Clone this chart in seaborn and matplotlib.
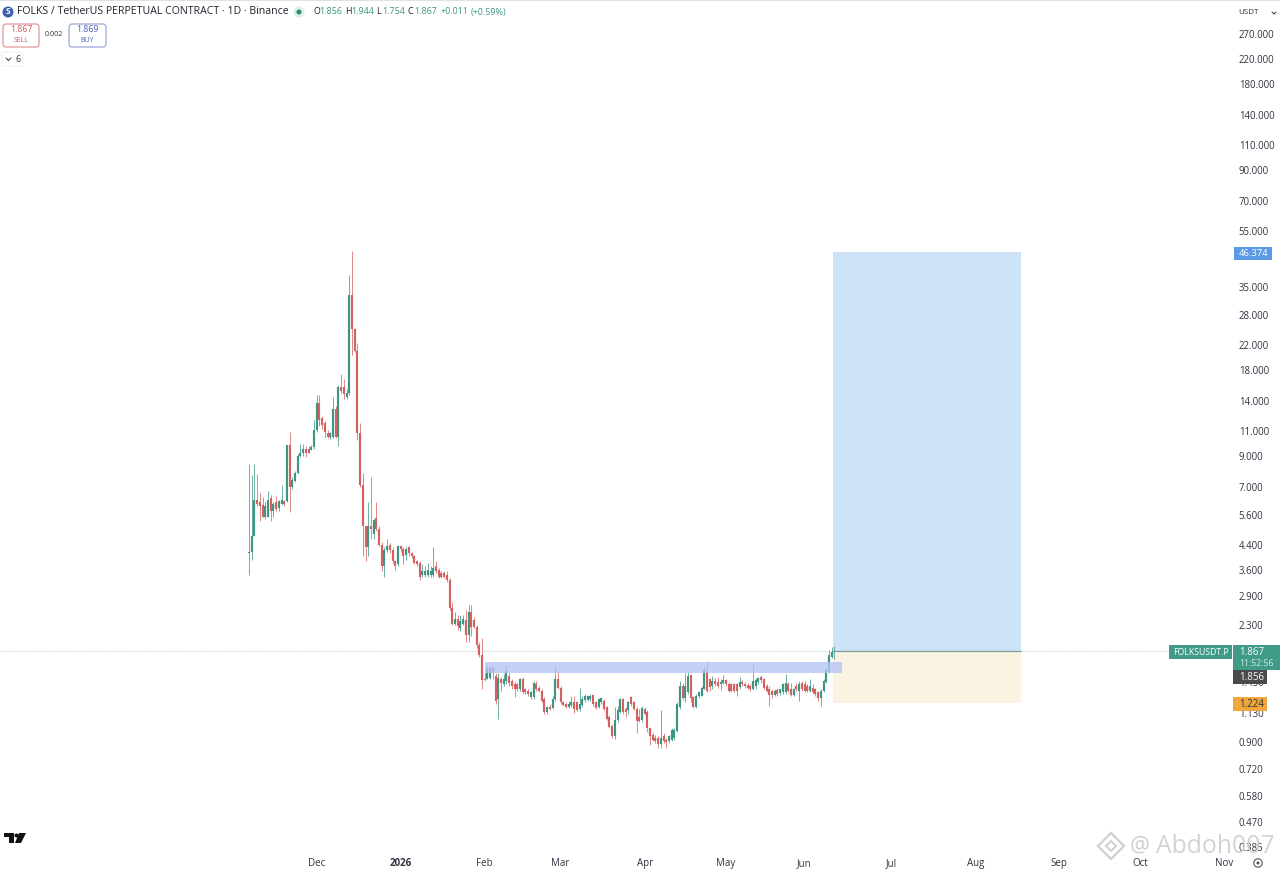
import pandas as pd
import matplotlib
matplotlib.use('Agg')
import matplotlib.pyplot as plt
import matplotlib.dates as mdates
from matplotlib.patches import Rectangle, FancyBboxPatch, Circle, Polygon
import seaborn as sns

# daily candles, first candle 2025-11-06
start_date = '2025-11-06'
opens = [4.10, 4.15, 4.7, 6.3, 6.2, 6.05, 5.5, 5.5, 6.4, 5.75, 6.2, 5.9, 6.1, 6.25, 6.25, 9.8, 7.0, 7.35, 7.85, 9.0,
         9.2, 9.5, 9.5, 9.45, 9.65, 11.1, 13.8, 12.2, 11.7, 10.8, 10.5, 10.5, 13.1, 10.5, 15.7, 15.7, 14.4, 14.9, 32.9, 24.9,
         21, 10.8, 7.1, 5.1, 4.3, 5.1, 4.8, 5.45, 5.0, 4.4, 3.7, 4.2, 4.4, 4.2, 3.85, 3.75, 4.35, 4.25, 4.05, 4.3,
         4.1, 4.0, 3.85, 3.8, 3.45, 3.45, 3.45, 3.45, 3.45, 3.7, 3.6, 3.5, 3.5, 3.45, 3.3, 2.65, 2.33, 2.42, 2.25, 2.33,
         2.4, 2.12, 2.55, 2.4, 2.27, 1.96, 1.81, 1.485, 1.493, 1.505, 1.628, 1.525, 1.268, 1.493, 1.428, 1.466, 1.525, 1.466, 1.428, 1.428,
         1.372, 1.493, 1.372, 1.354, 1.292, 1.285, 1.428, 1.391, 1.354, 1.268, 1.142, 1.188, 1.178, 1.268, 1.485, 1.391, 1.235, 1.219, 1.188, 1.21,
         1.235, 1.235, 1.166, 1.21, 1.262, 1.262, 1.268, 1.309, 1.235, 1.188, 1.235, 1.252, 1.188, 1.098, 1.02, 0.938, 1.069, 1.142, 1.268, 1.172,
         1.157, 1.285, 1.235, 1.172, 1.098, 1.069, 1.172, 1.142, 1.001, 0.95, 0.93, 0.93, 0.883, 0.938, 0.913, 0.901, 0.913, 0.925, 0.983, 1.188,
         1.409, 1.275, 1.337, 1.533, 1.285, 1.188, 1.295, 1.302, 1.38, 1.586, 1.485, 1.409, 1.466, 1.455, 1.428, 1.447, 1.478, 1.436, 1.428, 1.428,
         1.428, 1.402, 1.455, 1.436, 1.417, 1.409, 1.38, 1.409, 1.455, 1.513, 1.485, 1.409, 1.38, 1.354, 1.309, 1.365, 1.33, 1.337, 1.344, 1.428,
         1.372, 1.309, 1.409, 1.354, 1.447, 1.428, 1.409, 1.354, 1.391, 1.372, 1.337, 1.275, 1.354, 1.455, 1.573, 1.785, 1.856]
highs = [8.45, 7.7, 8.45, 7.75, 6.65, 6.45, 6.2, 6.75, 6.55, 6.2, 6.5, 6.3, 7.1, 6.3, 9.8, 10.9, 7.6, 7.95, 9.1, 9.9,
         9.9, 9.7, 9.7, 9.8, 12.0, 14.7, 14.7, 12.4, 11.9, 11.1, 10.9, 14.4, 13.4, 15.9, 17.4, 16.7, 15.4, 38.6, 47, 25.2,
         22.4, 11.7, 7.85, 5.1, 6.2, 7.6, 5.4, 6.2, 5.1, 4.5, 4.3, 4.6, 4.45, 4.3, 3.9, 4.4, 4.4, 4.3, 4.3, 4.35,
         4.15, 4.05, 3.9, 3.85, 3.75, 3.7, 3.8, 3.7, 4.3, 3.85, 3.65, 3.55, 3.55, 3.55, 3.35, 2.78, 2.55, 2.5, 2.5, 2.5,
         2.6, 2.7, 2.7, 2.45, 2.3, 2.0, 2.07, 1.565, 1.672, 1.65, 1.65, 1.565, 1.565, 1.51, 1.545, 1.672, 1.565, 1.493, 1.466, 1.447,
         1.505, 1.515, 1.391, 1.372, 1.354, 1.466, 1.466, 1.409, 1.372, 1.285, 1.203, 1.219, 1.302, 1.66, 1.586, 1.409, 1.252, 1.235, 1.252, 1.302,
         1.302, 1.252, 1.391, 1.302, 1.319, 1.309, 1.319, 1.319, 1.252, 1.275, 1.285, 1.268, 1.203, 1.112, 1.033, 1.188, 1.203, 1.275, 1.275, 1.188,
         1.252, 1.302, 1.252, 1.188, 1.172, 1.203, 1.188, 1.157, 1.014, 0.963, 0.95, 0.938, 1.157, 0.963, 0.925, 0.95, 1.001, 1.001, 1.235, 1.466,
         1.447, 1.565, 1.573, 1.545, 1.302, 1.319, 1.354, 1.409, 1.66, 1.716, 1.505, 1.525, 1.505, 1.515, 1.485, 1.533, 1.493, 1.451, 1.447, 1.447,
         1.447, 1.515, 1.478, 1.455, 1.44, 1.428, 1.685, 1.505, 1.515, 1.533, 1.505, 1.428, 1.409, 1.372, 1.372, 1.391, 1.38, 1.447, 1.545, 1.455,
         1.447, 1.391, 1.447, 1.466, 1.466, 1.466, 1.428, 1.485, 1.428, 1.391, 1.354, 1.372, 1.485, 1.628, 1.882, 1.93, 1.944]
lows = [3.45, 3.9, 4.7, 6.0, 5.3, 5.5, 5.4, 5.5, 5.3, 5.5, 5.75, 5.75, 6.05, 6.0, 6.2, 5.7, 6.9, 7.3, 7.75, 8.9,
        9.0, 8.9, 9.2, 9.4, 9.5, 10.9, 11.4, 11.2, 10.4, 10.4, 10.3, 10.4, 10.4, 9.7, 14.9, 14.2, 14.2, 14.7, 20.2, 20.8,
        10.2, 7.0, 4.0, 3.85, 4.0, 4.6, 4.6, 4.9, 4.35, 3.55, 3.4, 4.15, 4.1, 3.8, 3.6, 3.7, 4.15, 3.75, 3.9, 4.0,
        3.95, 3.75, 3.7, 3.3, 3.4, 3.4, 3.4, 3.4, 3.4, 3.5, 3.35, 3.35, 3.35, 3.25, 2.6, 2.3, 2.3, 2.22, 2.2, 2.3,
        2.0, 2.0, 2.1, 2.25, 1.92, 1.78, 1.38, 1.466, 1.485, 1.485, 1.485, 1.219, 1.083, 1.354, 1.409, 1.428, 1.409, 1.372, 1.285, 1.354,
        1.354, 1.319, 1.319, 1.302, 1.268, 1.268, 1.354, 1.344, 1.235, 1.127, 1.127, 1.157, 1.172, 1.252, 1.372, 1.219, 1.203, 1.178, 1.178, 1.188,
        1.136, 1.148, 1.148, 1.188, 1.242, 1.252, 1.252, 1.203, 1.172, 1.178, 1.219, 1.163, 1.069, 1.001, 0.925, 0.92, 1.055, 1.136, 1.127, 1.098,
        1.127, 1.203, 1.157, 0.968, 1.055, 1.055, 1.112, 0.975, 0.878, 0.901, 0.889, 0.855, 0.855, 0.889, 0.855, 0.889, 0.901, 0.913, 0.97, 1.172,
        1.258, 1.235, 1.319, 1.235, 1.178, 1.178, 1.275, 1.295, 1.372, 1.337, 1.354, 1.38, 1.409, 1.391, 1.365, 1.428, 1.409, 1.344, 1.344, 1.344,
        1.302, 1.38, 1.409, 1.391, 1.372, 1.354, 1.365, 1.38, 1.428, 1.447, 1.372, 1.337, 1.194, 1.275, 1.295, 1.302, 1.309, 1.319, 1.319, 1.337,
        1.295, 1.295, 1.354, 1.252, 1.354, 1.337, 1.344, 1.337, 1.319, 1.295, 1.252, 1.194, 1.344, 1.447, 1.565, 1.762, 1.754]
closes = [4.15, 4.7, 6.3, 6.1, 6.0, 5.5, 6.0, 6.3, 5.75, 6.1, 5.85, 6.25, 6.3, 6.1, 9.8, 7.0, 7.4, 7.85, 8.95, 9.2,
          9.5, 9.2, 9.2, 9.65, 11.1, 13.8, 12.0, 11.5, 10.9, 10.5, 10.8, 13.1, 10.5, 15.7, 15.2, 14.8, 14.9, 32.9, 24.9, 21,
          10.8, 7.1, 5.1, 4.3, 5.1, 5.0, 5.35, 5.0, 4.4, 3.7, 4.2, 4.35, 4.2, 3.85, 3.7, 4.35, 4.25, 4.0, 4.25, 4.1,
          4.0, 3.8, 3.75, 3.4, 3.55, 3.55, 3.6, 3.55, 3.65, 3.55, 3.4, 3.4, 3.4, 3.3, 2.65, 2.33, 2.42, 2.28, 2.38, 2.42,
          2.12, 2.55, 2.27, 2.27, 1.96, 1.81, 1.475, 1.474, 1.628, 1.628, 1.565, 1.252, 1.505, 1.447, 1.485, 1.586, 1.447, 1.409, 1.372, 1.372,
          1.485, 1.337, 1.337, 1.319, 1.337, 1.447, 1.372, 1.354, 1.252, 1.142, 1.188, 1.172, 1.268, 1.485, 1.391, 1.235, 1.21, 1.188, 1.219, 1.235,
          1.166, 1.163, 1.219, 1.268, 1.302, 1.302, 1.302, 1.219, 1.182, 1.268, 1.275, 1.172, 1.083, 1.014, 0.938, 1.069, 1.157, 1.268, 1.142, 1.142,
          1.235, 1.219, 1.172, 1.06, 1.06, 1.178, 1.127, 1.001, 0.938, 0.913, 0.901, 0.883, 0.93, 0.901, 0.896, 0.938, 0.988, 0.988, 1.219, 1.409,
          1.275, 1.409, 1.525, 1.275, 1.188, 1.302, 1.337, 1.391, 1.607, 1.354, 1.4, 1.466, 1.428, 1.409, 1.455, 1.478, 1.428, 1.354, 1.354, 1.354,
          1.354, 1.455, 1.428, 1.409, 1.391, 1.372, 1.466, 1.478, 1.505, 1.478, 1.391, 1.354, 1.309, 1.309, 1.354, 1.319, 1.372, 1.428, 1.447, 1.354,
          1.309, 1.372, 1.372, 1.428, 1.372, 1.354, 1.354, 1.409, 1.344, 1.319, 1.275, 1.354, 1.466, 1.607, 1.809, 1.857, 1.867]

# levels on the chart
last_price = 1.867
open_price = 1.856
target_price = 46.374
stop_price = 1.224
band_top = 1.708
band_bottom = 1.564
band_start = '2026-02-01'
band_end = '2026-06-13'
zone_start = '2026-06-09'
zone_end = '2026-08-18'

price_ticks = [270, 220, 180, 140, 110, 90, 70, 55, 35, 28, 22, 18, 14, 11, 9, 7, 5.6, 4.4, 3.6, 2.9, 2.3,
               1.45, 1.13, 0.9, 0.72, 0.58, 0.47, 0.385]
month_ticks = ['2025-12-01', '2026-01-01', '2026-02-01', '2026-03-01', '2026-04-01', '2026-05-01', '2026-05-30',
               '2026-07-01', '2026-08-01', '2026-09-01', '2026-10-01', '2026-11-01']
month_labels = ['Dec', '2026', 'Feb', 'Mar', 'Apr', 'May', 'Jun', 'Jul', 'Aug', 'Sep', 'Oct', 'Nov']

GREEN = '#3d9683'
RED = '#d4605f'

sns.set_style('white')
plt.rcParams['font.family'] = ['Open Sans', 'DejaVu Sans']

dates = pd.date_range(start_date, periods=len(closes))
candles = pd.DataFrame({'date': dates, 'open': opens, 'high': highs, 'low': lows, 'close': closes})
candles['candle'] = range(len(candles))
candles['side'] = ['up' if c >= o else 'down' for o, c in zip(opens, closes)]

wicks = pd.concat([candles.assign(price=candles['low']), candles.assign(price=candles['high'])])
bodies = pd.concat([candles.assign(price=candles['open']), candles.assign(price=candles['close'])])

W, H = 1280, 871
fig = plt.figure(figsize=(W / 100, H / 100), dpi=100)
# price pane runs from x=0 to 1233 and y=2 to 851
ax = fig.add_axes([0, (H - 851) / H, 1233 / W, 849 / H])
ax.set_yscale('log')

palette = {'up': GREEN, 'down': RED}
sns.lineplot(data=wicks, x='date', y='price', units='candle', hue='side', palette=palette, estimator=None,
             sort=False, legend=False, linewidth=0.65, alpha=0.8, solid_capstyle='butt', ax=ax)
sns.lineplot(data=bodies, x='date', y='price', units='candle', hue='side', palette=palette, estimator=None,
             sort=False, legend=False, linewidth=1.55, solid_capstyle='butt', ax=ax)

# 285.8 px per decade, 1.867 sits on y=651
to_price = lambda y: last_price * 10 ** ((651 - y) / 285.8)
ax.set_ylim(to_price(851), to_price(2))
first_day = mdates.date2num(dates[0])
ax.set_xlim(first_day - 249 / 2.71, first_day + (1233 - 249) / 2.71)

zs = mdates.date2num(pd.Timestamp(zone_start)) + 0.5
ze = mdates.date2num(pd.Timestamp(zone_end))
ax.add_patch(Rectangle((zs, last_price), ze - zs, target_price - last_price, fc='#cde3f8', ec='none', zorder=1))
ax.add_patch(Rectangle((zs, stop_price), ze - zs, last_price - stop_price, fc='#fbf3e1', ec='none', zorder=1))
ax.plot([zs, ze], [last_price, last_price], color='#7f9f9b', lw=0.9, zorder=2)
bs = mdates.date2num(pd.Timestamp(band_start))
be = mdates.date2num(pd.Timestamp(band_end))
ax.add_patch(Rectangle((bs, band_bottom), be - bs, band_top - band_bottom, fc='#b4c3f7', ec='none', alpha=0.78, zorder=5))
ax.axhline(last_price, color='#b9c9c5', lw=0.7, ls=(0, (1, 1.5)), zorder=0)

ax.set_xlabel('')
ax.set_ylabel('')
ax.yaxis.tick_right()
ax.set_yticks(price_ticks)
ax.set_yticklabels(['%.3f' % p for p in price_ticks], fontsize=6.9, color='#2f3340')
ax.minorticks_off()
ax.set_xticks([mdates.date2num(pd.Timestamp(d)) for d in month_ticks])
ax.set_xticklabels(month_labels, fontsize=7.0, color='#2f3340')
ax.get_xticklabels()[1].set_fontweight('bold')
ax.tick_params(axis='both', length=0)
ax.tick_params(axis='y', pad=4.2)
ax.tick_params(axis='x', pad=5)
ax.patch.set_alpha(0)
for s in ax.spines.values():
    s.set_visible(False)

# screen furniture in pixel coordinates
ov = fig.add_axes([0, 0, 1, 1], zorder=10)
ov.set_xlim(0, W)
ov.set_ylim(H, 0)
ov.axis('off')
ov.patch.set_alpha(0)

ov.plot([0, W], [0.5, 0.5], color='#dfe1e5', lw=0.8)
ov.add_patch(Circle((8, 12), 5.5, fc='#3f5fb0', ec='none'))
ov.text(8, 12, 'S', color='white', fontsize=6, ha='center', va='center', fontweight='bold')
ov.text(17, 12, 'FOLKS / TetherUS PERPETUAL CONTRACT · 1D · Binance', fontsize=7.6, color='#20232e', va='center')
ov.add_patch(Circle((299, 12), 5.5, fc='#dcefe9', ec='none'))
ov.add_patch(Circle((299, 12), 2.5, fc='#2e8b75', ec='none'))
ohlc_text = [(313, 'O', '#20232e'), (319, '1.856', GREEN), (345, 'H', '#20232e'), (351, '1.944', GREEN),
             (376, 'L', '#20232e'), (382, '1.754', GREEN), (408, 'C', '#20232e'), (414, '1.867', GREEN),
             (441, '+0.011', GREEN), (471, '(+0.59%)', GREEN)]
for tx, t, c in ohlc_text:
    ov.text(tx, 12, t, fontsize=6.4, color=c, va='center')

ov.add_patch(FancyBboxPatch((3, 24), 36, 23, boxstyle='round,pad=0,rounding_size=3', fc='white', ec='#dc8d8d', lw=0.8))
ov.text(21, 30, '1.867', fontsize=6.3, color='#cf5f5f', ha='center', va='center')
ov.text(21, 40, 'SELL', fontsize=5, color='#cf5f5f', ha='center', va='center')
ov.text(54, 35, '0.002', fontsize=5, color='#30333c', ha='center', va='center')
ov.add_patch(FancyBboxPatch((69, 24), 37, 23, boxstyle='round,pad=0,rounding_size=3', fc='white', ec='#8f9fd0', lw=0.8))
ov.text(87, 30, '1.869', fontsize=6.3, color='#4f63b5', ha='center', va='center')
ov.text(87, 40, 'BUY', fontsize=5, color='#4f63b5', ha='center', va='center')
ov.add_patch(FancyBboxPatch((2, 52), 21, 14, boxstyle='round,pad=0,rounding_size=2', fc='white', ec='#eceef1', lw=0.7))
ov.plot([6, 8.5, 11], [58, 60.5, 58], color='#30333c', lw=0.7)
ov.text(18, 59, '6', fontsize=6.3, color='#30333c', ha='center', va='center')

ov.text(1238, 13, 'USDT', fontsize=5.8, color='#30333c', va='center')
ov.plot([1272, 1274, 1276], [12, 14, 12], color='#30333c', lw=0.7)

# price tags on the scale
ov.add_patch(Rectangle((1234, 247), 38, 13, fc='#5b9ae6', ec='none'))
ov.text(1239, 253.5, '46.374', fontsize=6.8, color='white', va='center')
ov.add_patch(Rectangle((1169, 645), 63, 14, fc='#3f9a86', ec='none'))
ov.text(1200.5, 652, 'FOLKSUSDT.P', fontsize=6.3, color='white', ha='center', va='center')
ov.add_patch(Rectangle((1233, 645), 47, 25, fc='#3f9a86', ec='none'))
ov.text(1239, 652, '%.3f' % last_price, fontsize=7, color='white', va='center')
ov.text(1239, 663, '11:52:56', fontsize=6.3, color='#cfe7e0', va='center')
ov.add_patch(Rectangle((1233, 670), 34, 14, fc='#4a4a4c', ec='none'))
ov.text(1239, 677, '%.3f' % open_price, fontsize=7, color='white', va='center')
ov.add_patch(Rectangle((1233, 697), 34, 14, fc='#f0a63a', ec='none'))
ov.text(1239, 704, '%.3f' % stop_price, fontsize=7, color='#30333c', va='center')

# tv logo
ov.add_patch(Polygon([(4, 833), (14, 833), (14, 843), (9, 843), (9, 837), (4, 837)], fc='#111111', ec='none'))
ov.add_patch(Circle((16.5, 835.5), 2, fc='#111111', ec='none'))
ov.add_patch(Polygon([(19, 833), (26, 833), (21, 843), (15, 843)], fc='#111111', ec='none'))

# gear button
ov.add_patch(Circle((1258, 863), 4.2, fc='none', ec='#50535e', lw=0.8))
ov.add_patch(Circle((1258, 863), 1.5, fc='#50535e', ec='none'))

# watermark
wm = '#cfcfcf'
ov.add_patch(Polygon([(1111, 833), (1124, 846), (1111, 859), (1098, 846)], fc='none', ec=wm, lw=1.6))
ov.add_patch(Polygon([(1111, 841), (1116, 846), (1111, 851), (1106, 846)], fc='none', ec=wm, lw=1.4))
ov.text(1130, 846, '@', fontsize=16, color=wm, va='center')
ov.text(1156, 846, 'Abdoh007', fontsize=17.8, color=wm, va='center', alpha=0.9)

fig.savefig('out.png', dpi=100)
